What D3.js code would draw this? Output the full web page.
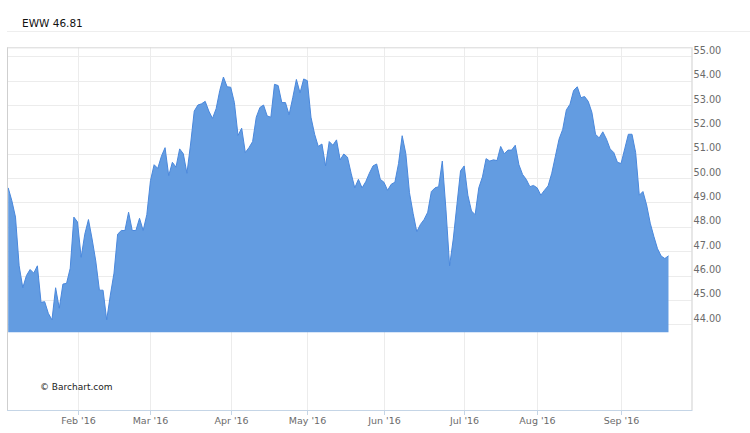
<!DOCTYPE html>
<html><head><meta charset="utf-8">
<script src="https://cdn.jsdelivr.net/npm/d3@7"></script>
<style>
html,body{margin:0;padding:0;background:#fff;}
svg{display:block;font-family:"DejaVu Sans",sans-serif;}
</style></head>
<body><svg id="c" width="750" height="433"></svg>
<script>
const symbol = "EWW";
const lastPrice = "46.81";
// daily closes, trading days from 2016-01-04
const closes = [
49.60,49.07,48.40,46.40,45.50,46.00,46.25,46.10,46.40,44.90,
44.93,44.45,44.18,45.50,44.66,45.65,45.68,46.30,48.40,48.20,
46.75,47.70,48.30,47.50,46.60,45.40,45.40,44.18,45.20,46.10,
47.70,47.85,47.85,48.60,47.85,47.85,48.35,47.85,48.50,49.90,
50.55,50.40,50.90,51.25,50.10,50.65,50.45,51.20,51.00,50.20,
51.40,52.75,53.00,53.05,53.15,52.75,52.45,52.85,53.60,54.15,
53.75,53.73,53.10,51.75,52.05,51.05,51.25,51.50,52.50,52.90,
53.00,52.55,52.50,53.85,53.80,53.10,53.10,52.60,53.30,54.05,
53.50,54.07,54.00,52.50,51.80,51.30,51.40,50.50,51.50,51.35,
51.57,50.75,50.99,50.86,50.20,49.60,49.95,49.60,49.85,50.20,
50.50,50.58,49.95,49.83,49.50,49.75,49.83,50.60,51.74,51.00,
49.40,48.55,47.80,48.10,48.30,48.60,49.45,49.60,49.65,50.70,
48.70,46.40,47.50,48.90,50.30,50.50,49.30,48.65,48.50,49.60,
50.05,50.80,50.70,50.75,50.72,51.30,51.00,51.15,51.15,51.35,
50.55,50.15,49.95,49.65,49.70,49.60,49.30,49.50,49.68,50.20,
50.90,51.60,52.00,52.80,53.03,53.60,53.75,53.30,53.35,53.15,
52.70,51.80,51.65,51.90,51.60,51.20,51.05,50.65,50.60,51.20,
51.80,51.80,51.05,49.30,49.45,48.90,48.15,47.60,47.10,46.80,
46.70,46.81
];
// month labels and the trading-day index at which each month starts
const monthLabels = ["Feb '16","Mar '16","Apr '16","May '16","Jun '16","Jul '16","Aug '16","Sep '16"];
const monthIndex  = [19, 39, 61, 82, 103, 125, 145, 168];
const yTicks = [44,45,46,47,48,49,50,51,52,53,54,55];
const areaBaseValue = 43.67;

const svg = d3.select("#c");
const L = 7, R = 691.5, T = 47.3, B = 410;

const x = d3.scaleLinear().domain([0, 187.4]).range([8.2, 8.2 + 3.648*187.4]);
const y = d3.scaleLinear().domain([44, 55]).range([324.3, 56.3]);

// title
svg.append("text").attr("x", 22).attr("y", 27).attr("font-size", "10.5px")
  .attr("fill", "#111").text(symbol + " " + lastPrice);
svg.append("line").attr("x1", 7).attr("x2", 750).attr("y1", 31.5).attr("y2", 31.5)
  .attr("stroke", "#eeeeee");

// horizontal grid
svg.append("g").selectAll("line").data(yTicks).join("line")
  .attr("x1", L).attr("x2", R)
  .attr("y1", d => Math.round(y(d)) + 0.5).attr("y2", d => Math.round(y(d)) + 0.5)
  .attr("stroke", "#ececec");

// vertical grid
svg.append("g").selectAll("line").data(monthIndex).join("line")
  .attr("x1", d => Math.round(x(d)) + 0.5).attr("x2", d => Math.round(x(d)) + 0.5)
  .attr("y1", T).attr("y2", B)
  .attr("stroke", "#ececec");

// area
const area = d3.area().x((d, i) => x(i)).y0(y(areaBaseValue)).y1(d => y(d));
const line = d3.line().x((d, i) => x(i)).y(d => y(d));
svg.append("path").datum(closes).attr("d", area).attr("fill", "#639ce1");
svg.append("path").datum(closes).attr("d", line).attr("fill", "none")
  .attr("stroke", "#4a88dc").attr("stroke-width", 1);

// frame
svg.append("line").attr("x1", L + 0.5).attr("x2", L + 0.5).attr("y1", T).attr("y2", B).attr("stroke", "#cfcfcf");
svg.append("line").attr("x1", R + 0.5).attr("x2", R + 0.5).attr("y1", T).attr("y2", B).attr("stroke", "#cfcfcf");
svg.append("line").attr("x1", L).attr("x2", R).attr("y1", T + 0.5).attr("y2", T + 0.5).attr("stroke", "#d8d8d8");
svg.append("line").attr("x1", L).attr("x2", R + 1).attr("y1", B + 0.5).attr("y2", B + 0.5).attr("stroke", "#c5d5e6");

// x ticks and labels
const xt = svg.append("g").selectAll("g").data(monthIndex).join("g")
  .attr("transform", d => `translate(${Math.round(x(d)) + 0.5},0)`);
xt.append("line").attr("y1", B).attr("y2", B + 5).attr("stroke", "#c5d5e6");
xt.append("text").attr("y", B + 13.5).attr("text-anchor", "middle")
  .attr("font-size", "9.5px").attr("fill", "#6b6b6b").text((d, i) => monthLabels[i]);

// y labels
svg.append("g").selectAll("text").data(yTicks).join("text")
  .attr("x", R + 2).attr("y", d => y(d) - 2.5)
  .attr("font-size", "9.7px").attr("fill", "#6b6b6b")
  .text(d => d.toFixed(2));

// watermark
svg.append("text").attr("x", 40).attr("y", 390).attr("font-size", "9px")
  .attr("fill", "#222").text("© Barchart.com");
</script></body></html>
